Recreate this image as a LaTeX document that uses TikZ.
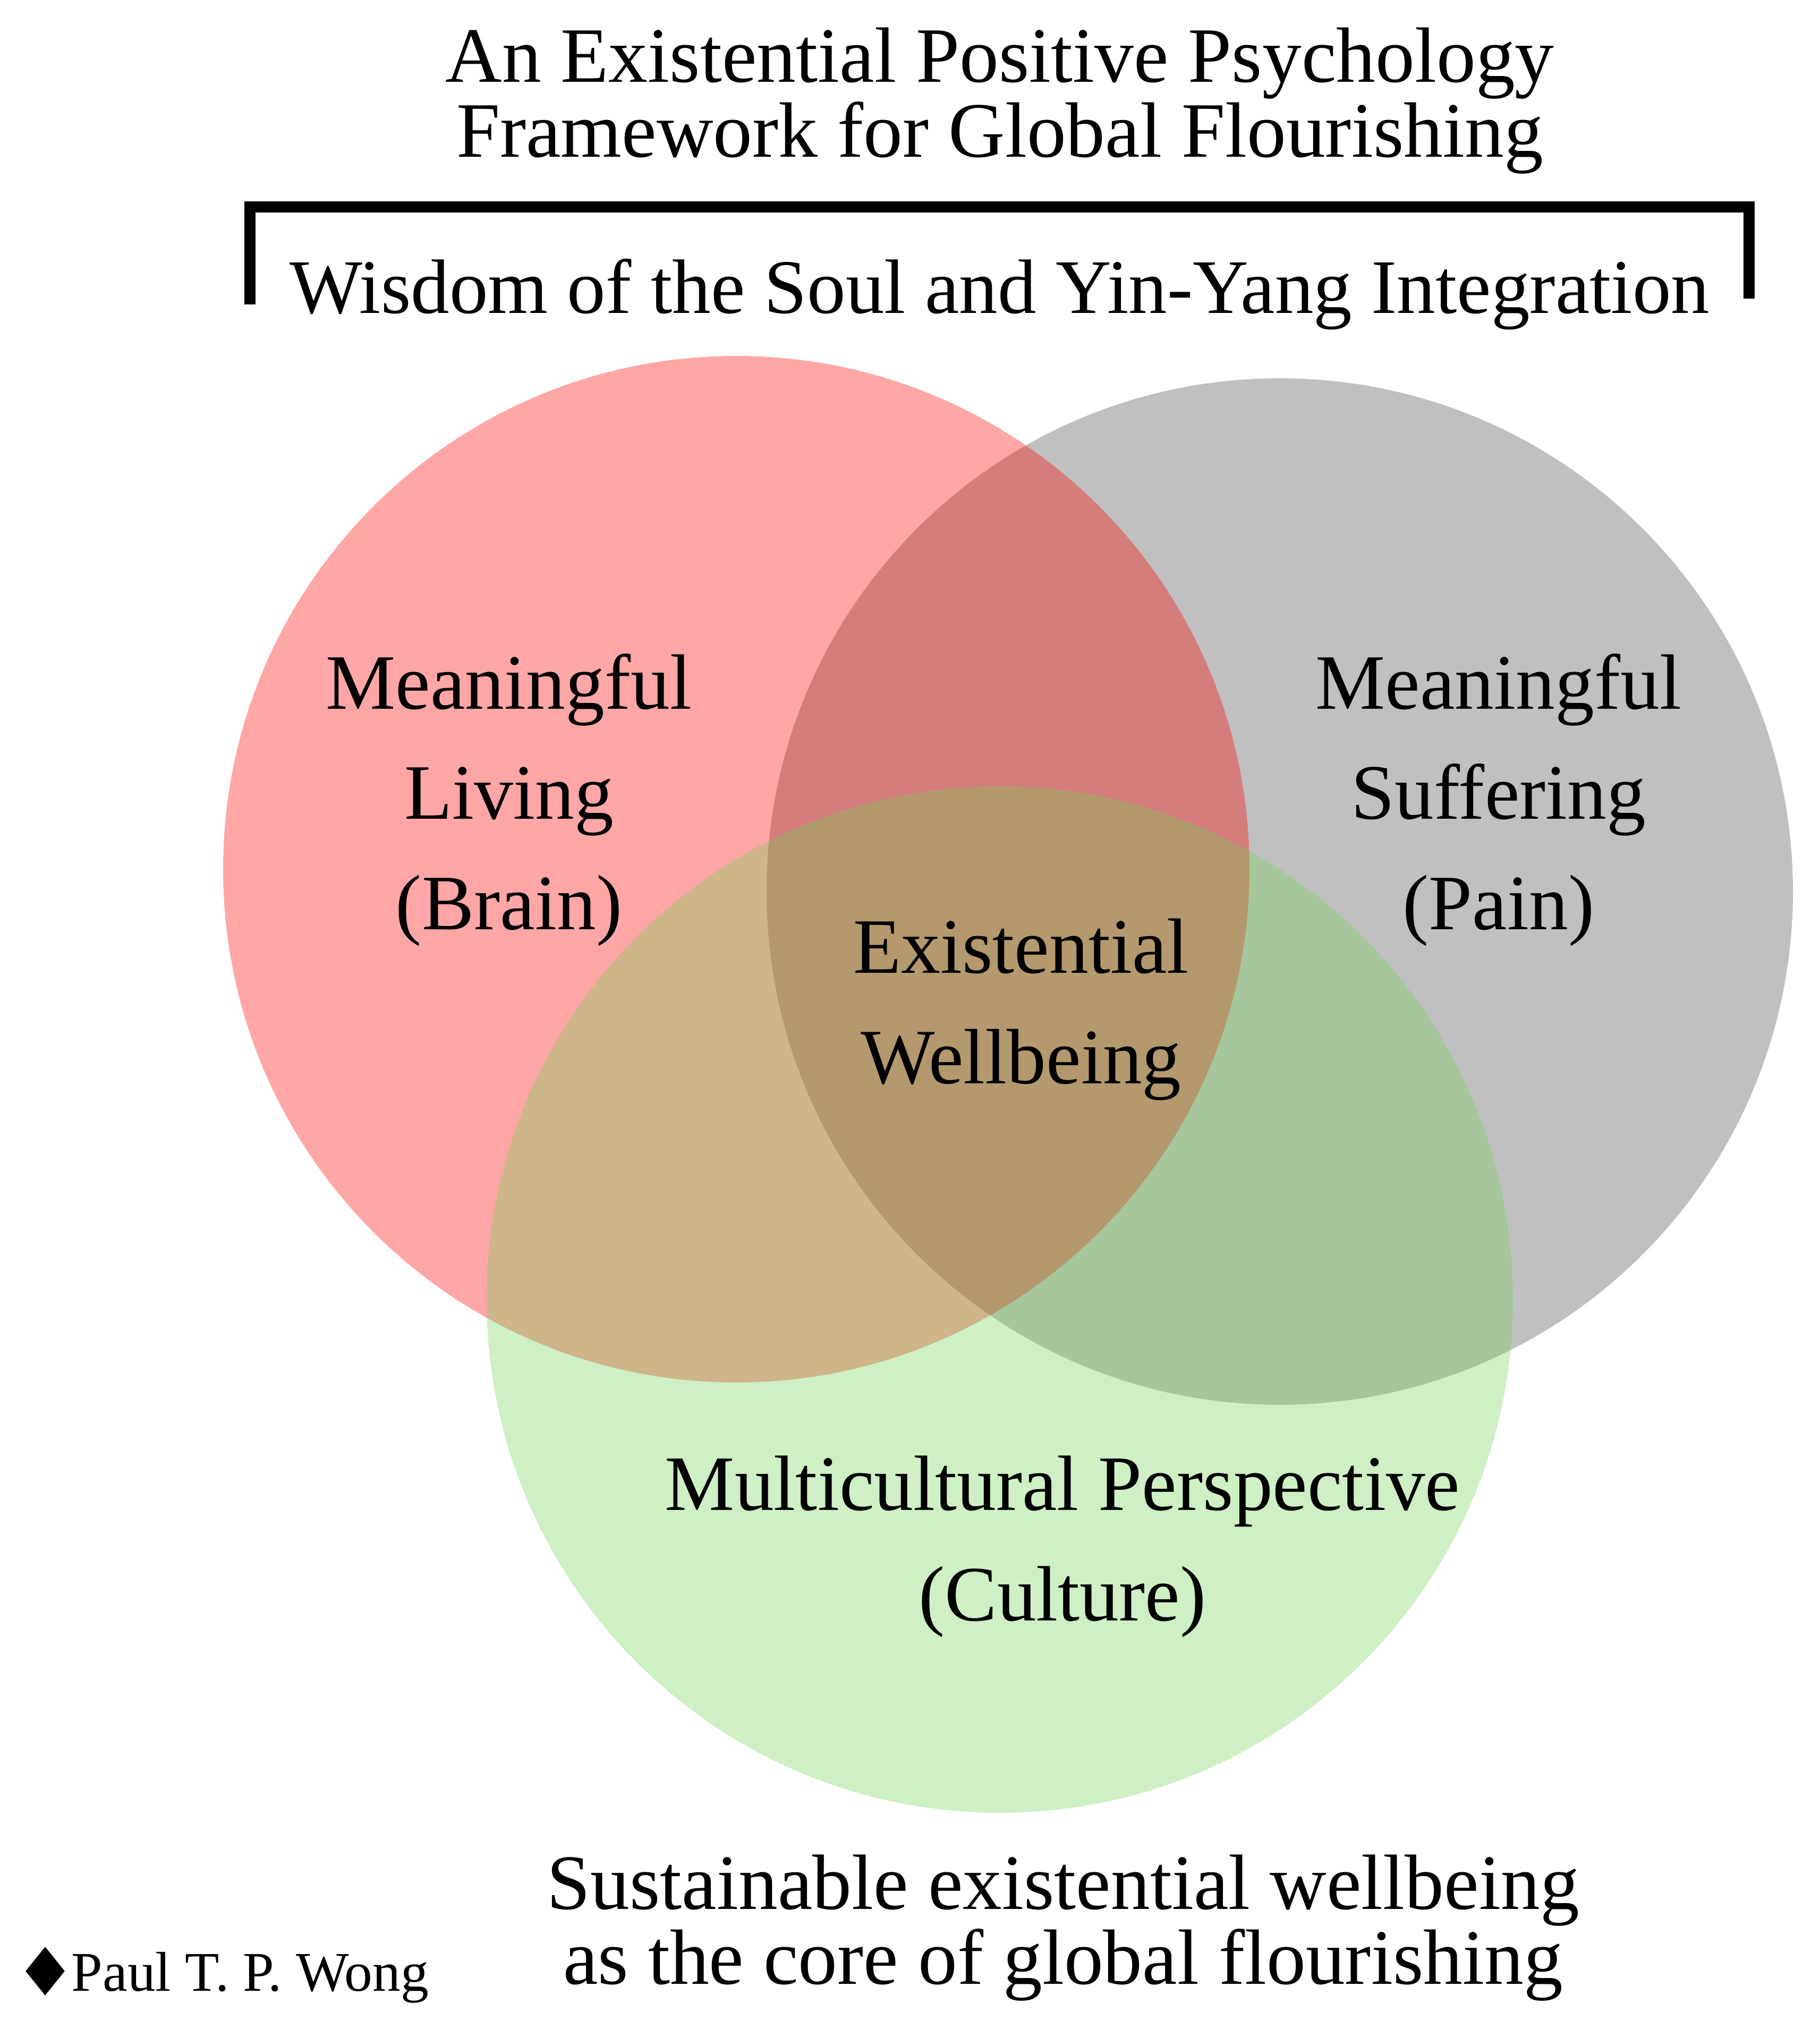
\documentclass[tikz,border=0pt]{standalone}
\usepackage{fontspec}
\setmainfont{Liberation Serif}
\usetikzlibrary{positioning,shapes.geometric}

\definecolor{brainred}{RGB}{255,0,0}
\definecolor{paingray}{RGB}{75,75,75}
\definecolor{culturegreen}{RGB}{118,209,86}

\begin{document}
\begin{tikzpicture}[
    venn/.style={circle, minimum size=19.32cm, inner sep=0pt, fill opacity=0.35},
    heading/.style={font=\fontsize{42}{40.1}\selectfont, align=center, inner sep=0pt},
    region/.style={font=\fontsize{42}{59}\selectfont, align=center, inner sep=0pt}
]
    \useasboundingbox (0,0) rectangle (34.25,-38.19);

    % --- Title ---
    \node[heading, anchor=base] (title) at (18.82,-2.95) {An Existential Positive Psychology\\Framework for Global Flourishing};

    % Bracket over the diagram
    \draw[line width=0.21cm] (4.70,-5.73) |- (32.92,-3.89) -- (32.92,-5.62);
    \node[anchor=base, font=\fontsize{41.3}{40}\selectfont, inner sep=0pt] (wisdom) at (18.82,-5.89) {Wisdom of the Soul and Yin-Yang Integration};

    % --- Venn circles ---
    \node[venn, fill=paingray] (pain) at (24.09,-16.78) {};
    \node[venn, fill=brainred] (brain) at (13.86,-16.36) {};
    \node[venn, fill=culturegreen] (culture) at (18.82,-24.46) {};

    % Region labels (base = last line)
    \node[region, anchor=base] (living) at (9.58,-17.49) {Meaningful\\Living\\(Brain)};
    \node[region, anchor=base] (suffering) at (28.21,-17.49) {Meaningful\\Suffering\\(Pain)};
    \node[region, anchor=base] (core) at (19.22,-20.39) {Existential\\Wellbeing};
    \node[region, anchor=base] (multi) at (20.00,-30.50) {Multicultural Perspective\\(Culture)};

    % --- Bottom line ---
    \node[heading, anchor=base] (summary) at (20.01,-37.34) {Sustainable existential wellbeing\\as the core of global flourishing};

    % Author
    \node[diamond, fill=black, inner sep=0pt, minimum width=0.74cm, minimum height=0.92cm] (mark) at (0.85,-37.10) {};
    \node[anchor=base west, font=\fontsize{30}{30}\selectfont, inner sep=0pt] (author) at (1.34,-37.47) {Paul T. P. Wong};

\end{tikzpicture}
\end{document}
